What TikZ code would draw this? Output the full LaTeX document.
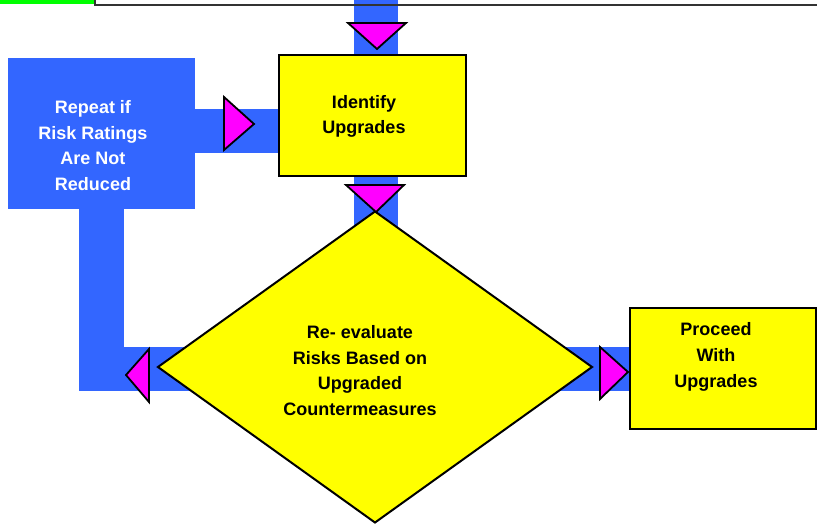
\documentclass[tikz,border=0pt]{standalone}
\usepackage{fontspec}
\setmainfont{Liberation Sans}
\usetikzlibrary{shapes.geometric,backgrounds}
\definecolor{flowblue}{RGB}{51,102,255}
\definecolor{flowyellow}{RGB}{255,255,0}
\definecolor{flowmagenta}{RGB}{255,0,255}
\definecolor{flowgreen}{RGB}{0,255,0}
\begin{document}
\begin{tikzpicture}[scale=0.3514]
\tikzstyle{every node}+=[inner sep=0pt, outer sep=0pt, align=center, font=\bfseries\fontsize{18}{25.7}\selectfont]
\tikzstyle{bar}=[draw=flowblue, line width=44pt]
\tikzstyle{ybox}=[draw=black, fill=flowyellow, line width=2pt]
\tikzstyle{tri}=[fill=flowmagenta, draw=black, line width=1.8pt]
\useasboundingbox (0,0) rectangle (81.7,-52.9);
\fill [flowgreen] (0,0) rectangle (9.35,-0.4);
\draw [black!80, line width=2pt] (9.45,0) -- (9.45,-0.45) -- (81.7,-0.45);
\node [fill=flowblue, minimum width=187pt, minimum height=151pt] (repeatbox) at (10.15,-13.35) {};
\node [text=white] (repeattxt) at (9.3,-14.55) {Repeat if\\Risk Ratings\\Are Not\\Reduced};
\node [ybox, minimum width=187pt, minimum height=121pt] (ident) at (37.25,-11.55) {};
\node (identtxt) at (36.4,-11.65) {Identify\\Upgrades};
\node [ybox, diamond, minimum width=434pt, minimum height=311pt] (reval) at (37.5,-36.7) {};
\node (revaltxt) at (36.0,-37.05) {Re- evaluate\\Risks Based on\\Upgraded\\Countermeasures};
\node [ybox, minimum width=186pt, minimum height=121pt] (proceed) at (72.3,-36.85) {};
\node (proceedtxt) at (71.6,-35.7) {Proceed\\With\\Upgrades};
\begin{scope}[on background layer]
\coordinate (topin) at (37.55,0);
\draw [bar] (topin) -- (topin |- ident.north);
\draw [bar] (topin |- ident.south) -- (topin |- reval.center);
\draw [bar] ([yshift=8pt]repeatbox.east) -- ([yshift=8pt]repeatbox.east -| ident.west);
\draw [bar] (repeatbox.south) |- ([yshift=-6pt]reval.center);
\draw [bar] ([yshift=-6pt]reval.center) -- ([yshift=-6pt]reval.center -| proceed.west);
\end{scope}
\filldraw [tri] (34.8,-2.3) -- (40.6,-2.3) -- (37.7,-4.9) -- cycle;
\filldraw [tri] (34.6,-18.5) -- (40.4,-18.5) -- (37.6,-21.2) -- cycle;
\filldraw [tri] (22.4,-9.7) -- (22.4,-15.0) -- (25.4,-12.4) -- cycle;
\filldraw [tri] (14.9,-34.9) -- (14.9,-40.2) -- (12.6,-37.5) -- cycle;
\filldraw [tri] (60.0,-34.7) -- (60.0,-39.9) -- (62.8,-37.2) -- cycle;
\end{tikzpicture}
\end{document}
